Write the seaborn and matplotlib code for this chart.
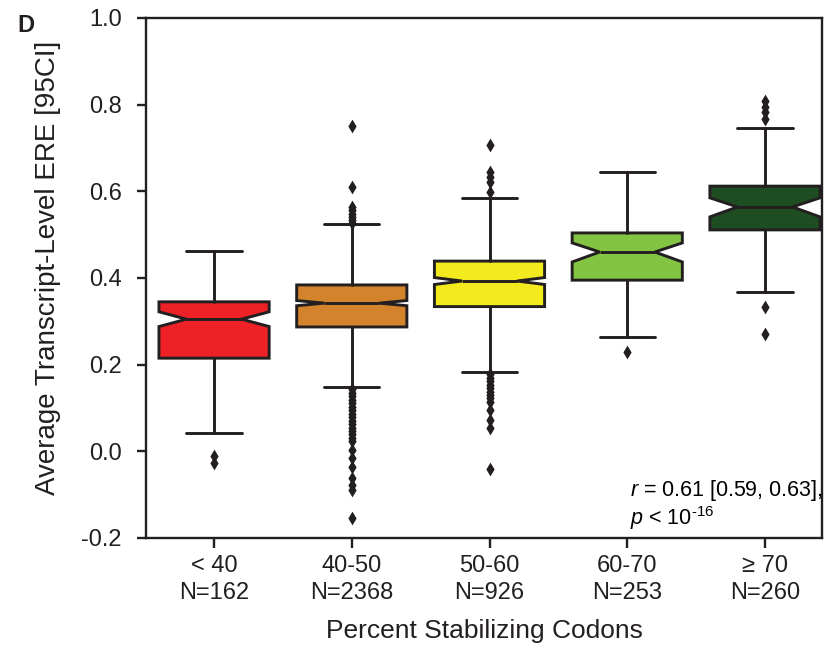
import matplotlib
matplotlib.use("Agg")
import matplotlib.pyplot as plt
import seaborn as sns
import pandas as pd

# ---- data ----
categories = ["< 40", "40-50", "50-60", "60-70", "\u2265 70"]
counts = [162, 2368, 926, 253, 260]
medians = [0.305, 0.342, 0.393, 0.460, 0.564]
q1s = [0.215, 0.287, 0.334, 0.395, 0.511]
q3s = [0.345, 0.384, 0.439, 0.504, 0.612]
whislo = [0.042, 0.148, 0.183, 0.264, 0.368]
whishi = [0.462, 0.525, 0.584, 0.645, 0.746]
ci_lo = [0.288, 0.336, 0.385, 0.437, 0.541]
ci_hi = [0.322, 0.348, 0.401, 0.481, 0.585]
outliers = [
    [-0.010, -0.028],
    [0.751, 0.610, 0.564, 0.556, 0.548, 0.540, 0.533, 0.527,
     0.143, 0.135, 0.127, 0.119, 0.111, 0.103, 0.095, 0.087, 0.079, 0.071,
     0.063, 0.055, 0.047, 0.039, 0.031, 0.023, 0.003, -0.015, -0.036,
     -0.062, -0.078, -0.089, -0.154],
    [0.708, 0.645, 0.633, 0.622, 0.598,
     0.178, 0.170, 0.162, 0.154, 0.146, 0.138, 0.130, 0.122, 0.114,
     0.095, 0.072, 0.054, -0.040],
    [0.229],
    [0.808, 0.795, 0.782, 0.768, 0.333, 0.271],
]
colors = ["#EE2126", "#D2832B", "#F2EA1C", "#83C443", "#1F4D22"]
annotation = ("$\\it{r}$ = 0.61 [0.59, 0.63],\n"
              "$\\it{p}$ < 10$^{\\text{-16}}$")

# ---- style ----
sns.set_theme(style="ticks")
plt.rcParams["font.family"] = ["Liberation Sans", "DejaVu Sans"]
plt.rcParams["mathtext.fontset"] = "custom"
plt.rcParams["mathtext.rm"] = "Liberation Sans"
plt.rcParams["mathtext.it"] = "Liberation Sans:italic"
plt.rcParams["mathtext.bf"] = "Liberation Sans:bold"

edge = "#231F20"
fig = plt.figure(figsize=(8.34, 6.5), dpi=100)
ax = fig.add_axes([146 / 834, 1 - 538 / 650, 676 / 834, 520 / 650])

# outliers via seaborn
fl_cat, fl_val = [], []
for c, vals in zip(categories, outliers):
    for v in vals:
        fl_cat.append(c)
        fl_val.append(v)
df_out = pd.DataFrame({"group": fl_cat, "value": fl_val})
sns.stripplot(data=df_out, x="group", y="value", order=categories, jitter=False,
              marker="d", size=7, color=edge, linewidth=0, ax=ax, zorder=1)

# boxes from summary statistics
stats = []
for i, c in enumerate(categories):
    stats.append(dict(label=c, med=medians[i], q1=q1s[i], q3=q3s[i],
                      whislo=whislo[i], whishi=whishi[i],
                      cilo=ci_lo[i], cihi=ci_hi[i], fliers=[]))
lw = 2.1
bp = ax.bxp(stats, positions=range(len(categories)), widths=0.8,
            shownotches=True, showfliers=False, patch_artist=True,
            boxprops=dict(linewidth=lw, edgecolor=edge),
            medianprops=dict(linewidth=lw, color=edge),
            whiskerprops=dict(linewidth=lw, color=edge),
            capprops=dict(linewidth=lw, color=edge),
            manage_ticks=False, zorder=2)
for patch, col in zip(bp["boxes"], colors):
    patch.set_facecolor(col)

# axes formatting
ax.set_xlim(-0.494, 4.414)
ax.set_ylim(-0.2, 1.0)
ax.set_yticks([-0.2, 0.0, 0.2, 0.4, 0.6, 0.8, 1.0])
ax.set_yticklabels(["-0.2", "0.0", "0.2", "0.4", "0.6", "0.8", "1.0"])
ax.set_xticks(range(len(categories)))
ax.set_xticklabels([f"{c}\nN={n}" for c, n in zip(categories, counts)],
                   linespacing=1.26)
for s in ax.spines.values():
    s.set_linewidth(1.7)
    s.set_color(edge)
    s.set_visible(True)
ax.tick_params(axis="y", length=6.5, width=1.7, color=edge, pad=11,
               labelsize=17, labelcolor=edge)
ax.tick_params(axis="x", length=7, width=1.7, color=edge, pad=5.5,
               labelsize=17, labelcolor=edge)
ax.set_xlabel("Percent Stabilizing Codons", fontsize=19, color=edge)
ax.set_ylabel("Average Transcript-Level ERE [95CI]", fontsize=20, color=edge)
ax.xaxis.set_label_coords(0.5, -0.156)
ax.yaxis.set_label_coords(-0.126, 0.52)
ax.grid(False)

ax.text(0.716, 0.012, annotation, transform=ax.transAxes, fontsize=15.5,
        ha="left", va="bottom", color="black", linespacing=1.02)
fig.text(17 / 834, 1 - 32 / 650, "D", fontsize=17, fontweight="bold",
         ha="left", va="baseline", color=edge)

fig.savefig("out.png", dpi=100)
